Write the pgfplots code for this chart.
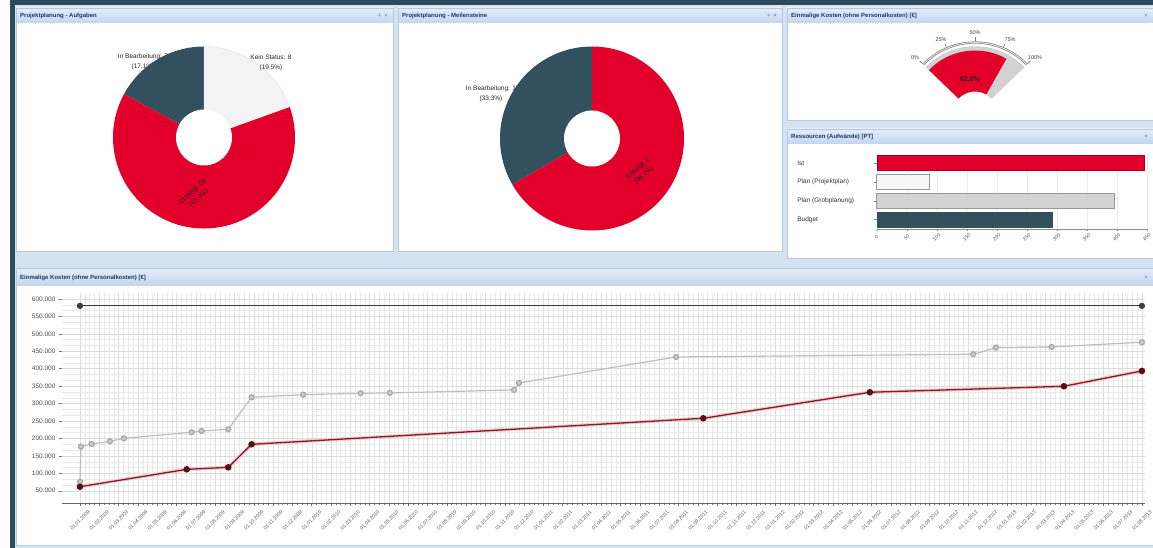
\documentclass[border=0pt]{standalone}
\usepackage{fontspec}
\setmainfont{Liberation Sans}
\usepackage{pgfplots}
\pgfplotsset{compat=1.18}
\definecolor{cRed}{HTML}{E2002B}
\definecolor{cSlate}{HTML}{33505F}
\definecolor{cLight}{HTML}{F3F3F3}
\definecolor{cFrame}{HTML}{2D4B5C}
\definecolor{cBg}{HTML}{D5E2F1}
\definecolor{cHeadTop}{HTML}{E4EEF9}
\definecolor{cHeadBot}{HTML}{C3D5EE}
\definecolor{cBorder}{HTML}{B4C8E2}
\definecolor{cTitle}{HTML}{1C3B66}
\definecolor{cGaugeGray}{HTML}{D2D2D2}
\definecolor{cBarGray}{HTML}{D3D3D3}
\definecolor{cLineRed}{HTML}{7E1F2E}
\definecolor{cMarkRed}{HTML}{5A0E1A}
\definecolor{cGlow}{HTML}{F6C9D1}
\definecolor{cLineGray}{HTML}{BEBEBE}
\definecolor{cLineDark}{HTML}{3C3C3C}

% x1,y1,x2,y2,yheader,title,icons
\newcommand{\panel}[7]{%
  \fill[white] (axis cs:#1,#2) rectangle (axis cs:#3,#4);
  \shade[top color=cHeadTop, bottom color=cHeadBot] (axis cs:#1,#2) rectangle (axis cs:#3,#5);
  \draw[cBorder, line width=0.8pt] (axis cs:#1,#2) rectangle (axis cs:#3,#4);
  \node[anchor=west, inner sep=0pt, xshift=4pt, yshift=7.5pt, font=\fontsize{6}{6}\selectfont\bfseries, text=cTitle] at (axis cs:#1,#5) {#6};
  \node[anchor=east, inner sep=0pt, xshift=-5pt, yshift=7.5pt, font=\fontsize{6}{6}\selectfont, text=cTitle!70] at (axis cs:#3,#5) {#7};
}

\begin{document}
\begin{tikzpicture}
\useasboundingbox (0,0) rectangle (1153pt,548pt);

% ---------------- background, panels, pies, gauge ----------------
\begin{axis}[at={(0pt,0pt)}, anchor=south west, x=1pt, y=1pt, y dir=reverse,
  xmin=0, xmax=1153, ymin=0, ymax=548, hide axis, enlargelimits=false, clip=false]
\addplot[draw=none] coordinates {(0,0)};
\fill[white] (axis cs:0,0) rectangle (axis cs:1153,548);
\fill[cBg] (axis cs:15,5) rectangle (axis cs:1153,548);
\fill[cFrame] (axis cs:10,0) rectangle (axis cs:1153,5);
\fill[cFrame] (axis cs:10,0) rectangle (axis cs:15,548);

\panel{16}{8}{393}{251}{23}{Projektplanung - Aufgaben}{+ \,×}
\panel{398}{8}{782}{251}{23}{Projektplanung - Meilensteine}{+ \,×}
\panel{787}{8}{1153}{120}{23}{Einmalige Kosten (ohne Personalkosten) [€]}{×}
\panel{787}{129}{1153}{258}{144}{Ressourcen (Aufwände) [PT]}{×}
\panel{16}{268}{1153}{545}{285}{Einmalige Kosten (ohne Personalkosten) [€]}{×}

% ---- Pie 1: In Bearbeitung 7, Erledigt 26, Kein Status 8 (of 41)
\node[align=center, font=\fontsize{6.5}{10}\selectfont, text=black!85] at (axis cs:143,62) {In Bearbeitung: 7\\(17,1\%)};
\fill[cSlate] (axis cs:204,137.5) -- ++(90:91pt) arc[start angle=90,end angle=151.46,radius=91pt] -- cycle;
\fill[cRed] (axis cs:204,137.5) -- ++(151.46:91pt) arc[start angle=151.46,end angle=379.76,radius=91pt] -- cycle;
\fill[cLight, draw=black!10, line width=0.4pt] (axis cs:204,137.5) -- ++(19.76:91pt) arc[start angle=19.76,end angle=90,radius=91pt] -- cycle;
\fill[white] (axis cs:204,137.5) circle[radius=28pt];
\node[align=center, font=\fontsize{6.5}{10}\selectfont, text=black!85] at (axis cs:271,62.5) {Kein Status: 8\\(19,5\%)};
\node[align=center, rotate=42, font=\fontsize{6.5}{9}\selectfont, text=black!85] at (axis cs:196,195) {Erledigt: 26\\(63,4\%)};

% ---- Pie 2: In Bearbeitung 1, Erledigt 2 (of 3)
\node[align=center, font=\fontsize{6.5}{10}\selectfont, text=black!85] at (axis cs:491,93.5) {In Bearbeitung: 1\\(33,3\%)};
\fill[cSlate] (axis cs:592,138.5) -- ++(90:92pt) arc[start angle=90,end angle=210,radius=92pt] -- cycle;
\fill[cRed] (axis cs:592,138.5) -- ++(210:92pt) arc[start angle=210,end angle=450,radius=92pt] -- cycle;
\fill[white] (axis cs:592,138.5) circle[radius=28pt];
\node[align=center, rotate=42, font=\fontsize{6.5}{9}\selectfont, text=black!85] at (axis cs:641,172) {Erledigt: 2\\(66,7\%)};

% ---- Gauge (82 %)
\fill[cGaugeGray, draw=black!22, line width=0.3pt] (axis cs:975,114.5) ++(136:68pt) arc[start angle=136,end angle=44,radius=68pt] -- ++(224:45pt) arc[start angle=44,end angle=136,radius=23pt] -- cycle;
\fill[cRed] (axis cs:975,114.5) ++(136:64pt) arc[start angle=136,end angle=60.6,radius=64pt] -- ++(240.6:41pt) arc[start angle=60.6,end angle=136,radius=23pt] -- cycle;
\draw[black!50, line width=2.2pt] (axis cs:975,114.5) ++(136:72pt) arc[start angle=136,end angle=44,radius=72pt];
\draw[black!12, line width=0.9pt] (axis cs:975,114.5) ++(136:72pt) arc[start angle=136,end angle=44,radius=72pt];
\pgfplotsinvokeforeach{136,113,90,67,44}{\draw[black!55, line width=0.6pt] (axis cs:975,114.5) ++(#1:73pt) -- ++(#1:4pt);}
\node[font=\fontsize{5.5}{6}\selectfont, text=black!75] at (axis cs:915,57.5) {0\%};
\node[font=\fontsize{5.5}{6}\selectfont, text=black!75] at (axis cs:941,39.5) {25\%};
\node[font=\fontsize{5.5}{6}\selectfont, text=black!75] at (axis cs:975,33) {50\%};
\node[font=\fontsize{5.5}{6}\selectfont, text=black!75] at (axis cs:1010,39.5) {75\%};
\node[font=\fontsize{5.5}{6}\selectfont, text=black!75] at (axis cs:1035,57.5) {100\%};
\node[font=\fontsize{7}{7}\selectfont\bfseries, text=black!85] at (axis cs:970,80) {82,0\%};
\end{axis}

% ---------------- Ressourcen bar chart ----------------
\begin{axis}[at={(876.7pt,319pt)}, anchor=south west, scale only axis,
  width=271.2pt, height=75.4pt,
  xmin=0, xmax=452, ymin=-0.5, ymax=3.5,
  xbar, bar width=15pt,
  ytick={0,1,2,3}, yticklabels={Budget,Plan (Grobplanung),Plan (Projektplan),Ist},
  xtick={0,50,...,450},
  axis x line*=bottom, axis y line*=left,
  x axis line style={draw=black!45, line width=0.6pt, -},
  y axis line style={draw=none},
  tick align=outside, major tick length=2.5pt,
  tick style={draw=black!45, line width=0.4pt},
  xmajorgrids, major grid style={draw=black!8, line width=0.3pt},
  /pgf/number format/assume math mode=true,
  yticklabel style={anchor=west, xshift=-77pt, inner sep=0pt, font=\fontsize{6.5}{7}\selectfont, text=black!80},
  xticklabel style={rotate=45, anchor=center, font=\fontsize{5}{5}\selectfont, text=black!65},
  xticklabel shift=6pt,
  clip=false]
\addplot[bar shift=0pt, fill=cRed, draw=cRed!75!black, line width=0.4pt] coordinates {(446,3)};
\addplot[bar shift=0pt, fill=white!97!black, draw=black!40, line width=0.5pt] coordinates {(88,2)};
\addplot[bar shift=0pt, fill=cBarGray, draw=black!40, line width=0.5pt] coordinates {(396,1)};
\addplot[bar shift=0pt, fill=cSlate, draw=cSlate, line width=0.4pt] coordinates {(292,0)};
\end{axis}

% ---------------- Einmalige Kosten line chart ----------------
\begin{axis}[at={(62pt,44.7pt)}, anchor=south west, scale only axis,
  width=1083pt, height=210pt,
  xmin=-0.93, xmax=55.16, ymin=14000, ymax=616000,
  xtick={0,1,...,55}, minor x tick num=3,
  xticklabels={01.01.2009,01.02.2009,01.03.2009,01.04.2009,01.05.2009,01.06.2009,01.07.2009,01.08.2009,01.09.2009,01.10.2009,01.11.2009,01.12.2009,01.01.2010,01.02.2010,01.03.2010,01.04.2010,01.05.2010,01.06.2010,01.07.2010,01.08.2010,01.09.2010,01.10.2010,01.11.2010,01.12.2010,01.01.2011,01.02.2011,01.03.2011,01.04.2011,01.05.2011,01.06.2011,01.07.2011,01.08.2011,01.09.2011,01.10.2011,01.11.2011,01.12.2011,01.01.2012,01.02.2012,01.03.2012,01.04.2012,01.05.2012,01.06.2012,01.07.2012,01.08.2012,01.09.2012,01.10.2012,01.11.2012,01.12.2012,01.01.2013,01.02.2013,01.03.2013,01.04.2013,01.05.2013,01.06.2013,01.07.2013,01.08.2013},
  ytick={50000,100000,...,600000}, minor y tick num=2,
  grid=both, major grid style={draw=black!14, line width=0.3pt},
  minor grid style={draw=black!9, line width=0.3pt},
  axis x line*=bottom, axis y line*=left,
  x axis line style={draw=black!60, line width=0.7pt, -},
  y axis line style={draw=none},
  tick align=outside, major tick length=3pt, minor tick length=1.6pt,
  tick style={draw=black!55, line width=0.4pt},
  every minor y tick/.append style={draw=none},
  scaled y ticks=false,
  yticklabel={\pgfmathprintnumber[fixed,precision=0,1000 sep={.}]{\tick}},
  /pgf/number format/assume math mode=true,
  yticklabel style={font=\fontsize{6.5}{7}\selectfont, text=black!70},
  xticklabel style={rotate=45, anchor=center, font=\fontsize{5}{5}\selectfont, text=black!65},
  xticklabel shift=14pt,
  clip=false]
% Budget
\addplot[cLineDark, line width=1.2pt, mark=*, mark size=2.5pt, mark options={fill=cLineDark, draw=cLineDark}] coordinates {(0,580000) (55,580000)};
% Plan
\addplot[cLineGray, line width=1.2pt, mark=*, mark size=2.5pt, mark options={fill=black!20, draw=black!35}] coordinates {
(0,75000) (0.05,176200) (0.61,184000) (1.55,191700) (2.28,200300) (5.78,217500) (6.30,221300) (7.68,226100)
(8.89,317900) (11.56,325400) (14.54,329400) (16.05,330300) (22.48,338900) (22.74,358900) (30.87,433500)
(46.26,441300) (47.44,460200) (50.32,462200) (55,475700)};
% Ist
\addplot[cGlow, line width=3.6pt] coordinates {
(0,61500) (5.53,111400) (7.68,117100) (8.89,183100) (32.28,257700) (40.91,332300) (50.96,349500) (55,393400)};
\addplot[cLineRed, line width=1.3pt, mark=*, mark size=2.6pt, mark options={fill=cMarkRed, draw=cMarkRed}] coordinates {
(0,61500) (5.53,111400) (7.68,117100) (8.89,183100) (32.28,257700) (40.91,332300) (50.96,349500) (55,393400)};
\end{axis}
\end{tikzpicture}
\end{document}
